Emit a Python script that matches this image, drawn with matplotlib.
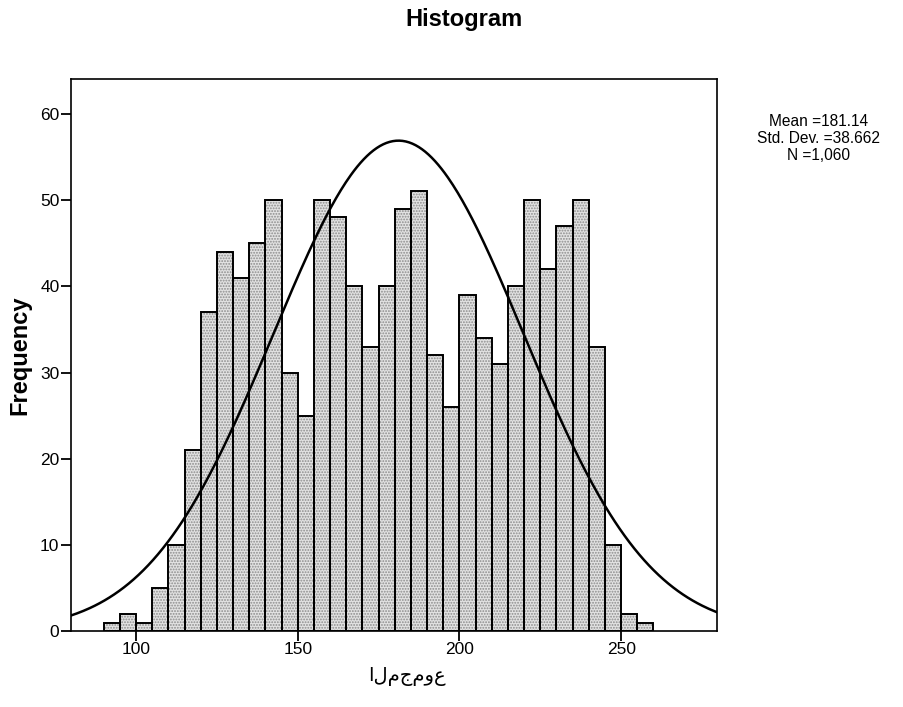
import numpy as np
import matplotlib
matplotlib.use("Agg")
import matplotlib.pyplot as plt

# Histogram of the total score, bins of width 5 from 90 to 260
bin_edges = list(range(90, 265, 5))
frequencies = [1, 2, 1, 5, 10, 21, 37, 44, 41, 45, 50, 30, 25, 50, 48, 40, 33,
               40, 49, 51, 32, 26, 39, 34, 31, 40, 50, 42, 47, 50, 33, 10, 2, 1]
mean_value = 181.14
std_value = 38.662
n_value = 1060
curve_bin_width = 5.2

x_ticks = [100, 150, 200, 250]
y_ticks = [0, 10, 20, 30, 40, 50, 60]

plt.rcParams["font.family"] = ["Liberation Sans", "DejaVu Sans"]
plt.rcParams["hatch.linewidth"] = 0.9

fig = plt.figure(figsize=(9.04, 7.07), dpi=100)
ax = fig.add_axes([0.078, 0.107, 0.715, 0.781])

lefts = np.array(bin_edges[:-1], dtype=float)
widths = np.diff(bin_edges)
ax.bar(lefts, frequencies, width=widths, align="edge", color="#e2e2e2",
       edgecolor="#8c8c8c", hatch="......", linewidth=0, zorder=2)
ax.bar(lefts, frequencies, width=widths, align="edge", fill=False,
       edgecolor="black", linewidth=1.4, zorder=3)

# Normal curve with the sample mean and standard deviation
xs = np.linspace(79.7, 279.6, 400)
pdf = np.exp(-0.5 * ((xs - mean_value) / std_value) ** 2) / (std_value * np.sqrt(2 * np.pi))
ax.plot(xs, n_value * curve_bin_width * pdf, color="black", linewidth=1.8, zorder=4)

ax.set_xlim(79.7, 279.6)
ax.set_ylim(0, 64)
ax.set_xticks(x_ticks)
ax.set_yticks(y_ticks)
ax.tick_params(direction="out", length=7, width=1.3, labelsize=12.5, pad=1)
for s in ax.spines.values():
    s.set_linewidth(1.2)

ax.set_ylabel("Frequency", fontsize=17, fontweight="bold", labelpad=6)
ax.set_xlabel("المجموع", fontsize=14, family=["DejaVu Sans"], labelpad=2)
ax.xaxis.set_label_coords(0.52, -0.065)

fig.text(0.513, 0.972, "Histogram", ha="center", va="center",
         fontsize=17, fontweight="bold")
fig.text(0.905, 0.804,
         "Mean =%.2f\nStd. Dev. =%.3f\nN =%s" % (mean_value, std_value, f"{n_value:,}"),
         ha="center", va="center", fontsize=11.2, linespacing=1.2)

fig.savefig("out.png", dpi=100)
